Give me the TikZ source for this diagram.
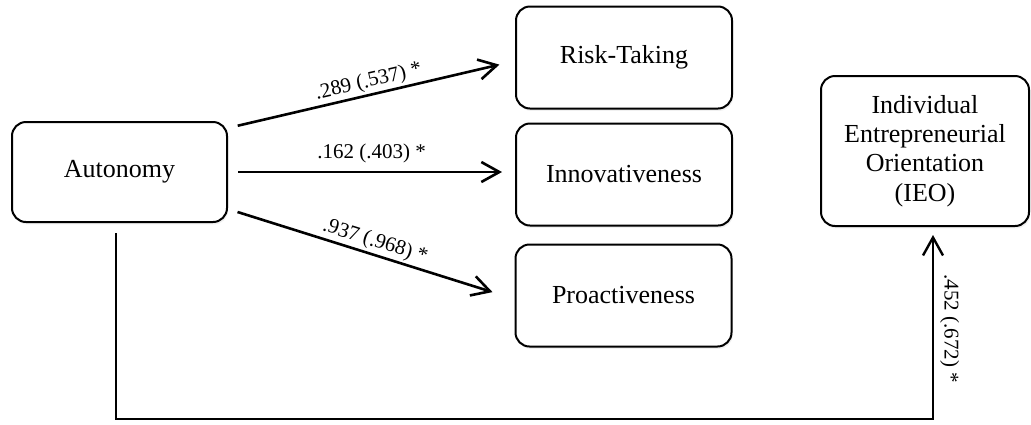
\documentclass[tikz,border=0pt]{standalone}
\usepackage{fontspec}
\setmainfont{Liberation Serif}
\usetikzlibrary{arrows.meta,shadows}

\begin{document}
\begin{tikzpicture}[x=0.5pt, y=-0.5pt,
    factor/.style = {draw, line width=1pt, rounded corners=7pt, fill=white,
        minimum width=108pt, minimum height=51pt, align=center,
        font=\fontsize{13}{14.7}\selectfont,
        drop shadow={shadow xshift=0.6pt, shadow yshift=-1.2pt, opacity=0.12}},
    link/.style = {line width=1.3pt, -{Straight Barb[length=9pt, width=10pt]}},
    coef/.style = {font=\fontsize{10.5}{12}\selectfont, inner sep=1pt}]
\useasboundingbox (0,0) rectangle (1031,424);
\node[factor, minimum width=107.5pt, minimum height=50pt] (auto) at (119.5,172) {Autonomy};
\node[factor] (risk) at (624,57.5) {Risk-Taking};
\node[factor] (innov) at (624,174.5) {Innovativeness};
\node[factor] (proact) at (623.5,295.5) {Proactiveness};
\node[factor, minimum width=104pt, minimum height=75pt] (ieo) at (925,151)
    {Individual\\Entrepreneurial\\Orientation\\(IEO)};
\coordinate (corner) at (933,419);
\draw[link, shorten <=5pt, shorten >=8pt] ([yshift=22pt]auto.east) --
    node[coef, midway, sloped, above] {.289 (.537) *} ([yshift=-1.75pt]risk.west);
\draw[link, shorten <=5pt, shorten >=6.5pt] (auto.east) --
    node[coef, midway, above, inner sep=4pt] {.162 (.403) *} (auto.east -| innov.west);
\draw[link, shorten <=5pt, shorten >=11.5pt] ([yshift=-18.5pt]auto.east) --
    node[coef, midway, sloped, above] {.937 (.968) *} ([yshift=-1.75pt]proact.west);
\draw[link, line width=1.2pt, shorten <=5pt, shorten >=4pt] ([xshift=-1.75pt]auto.south) |- (corner)
    -- node[coef, pos=0.47, rotate=-90, anchor=south, inner sep=3pt] {.452 (.672) *} (corner |- ieo.south);
\end{tikzpicture}
\end{document}
